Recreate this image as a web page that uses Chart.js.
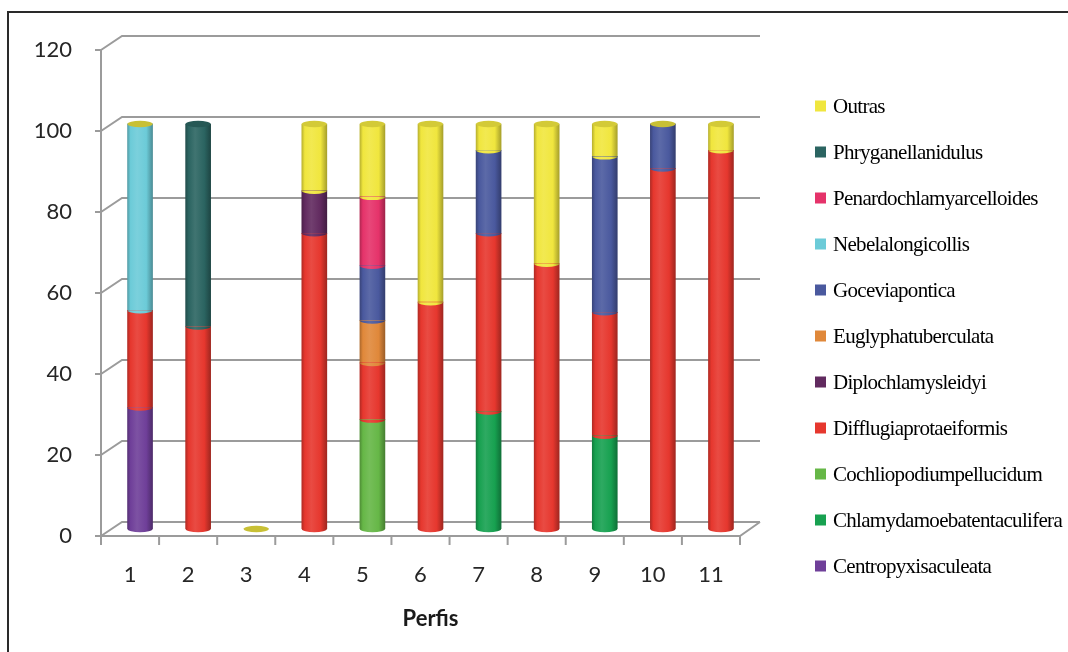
<!DOCTYPE html>
<html>
<head>
<meta charset="utf-8">
<script src="https://cdn.jsdelivr.net/npm/chart.js@4/dist/chart.umd.min.js"></script>
<style>
  html, body { margin: 0; padding: 0; background: #ffffff; }
  #wrap { position: relative; width: 1068px; height: 652px; }
</style>
</head>
<body>
<div id="wrap"><canvas id="chart"></canvas></div>
<script>
// Profiles (x axis)
const perfis = ['1', '2', '3', '4', '5', '6', '7', '8', '9', '10', '11'];

// Relative abundance (%) per profile, listed from the bottom of each stack upwards
const centropyxisAculeata        = [30,   null, null, null, null, null, null, null, null, null, null];
const chlamydamoebaTentaculifera = [null, null, null, null, null, null, 29,   null, 23,   null, null];
const cochliopodiumPellucidum    = [null, null, null, null, 27,   null, null, null, null, null, null];
const difflugiaProtaeiformis     = [24,   50,   null, 73,   14,   56,   44,   65.5, 30.5, 89,   93.5];
const diplochlamysLeidyi         = [null, null, null, 10.5, null, null, null, null, null, null, null];
const euglyphaTuberculata        = [null, null, null, null, 10.5, null, null, null, null, null, null];
const goceviaPontica             = [null, null, null, null, 13.5, null, 20.5, null, 38.5, 11,   null];
const nebelaLongicollis          = [46,   null, null, null, null, null, null, null, null, null, null];
const penardochlamysArcelloides  = [null, null, null, null, 17,   null, null, null, null, null, null];
const phryganellaNidulus         = [null, 50,   null, null, null, null, null, null, null, null, null];
const outras                     = [0,    null, 0,    16.5, 18,   44,   6.5,  34.5, 8,    0,    6.5];

// Y axis ticks
const yTicks = [0, 20, 40, 60, 80, 100, 120];

const series = [
  { label: 'Centropyxis aculeata',        data: centropyxisAculeata,        color: '#6f3f99' },
  { label: 'Chlamydamoeba tentaculifera', data: chlamydamoebaTentaculifera, color: '#17a150' },
  { label: 'Cochliopodium pellucidum',    data: cochliopodiumPellucidum,    color: '#66b747' },
  { label: 'Difflugia protaeiformis',     data: difflugiaProtaeiformis,     color: '#e6372e' },
  { label: 'Diplochlamys leidyi',         data: diplochlamysLeidyi,         color: '#612a5f' },
  { label: 'Euglypha tuberculata',        data: euglyphaTuberculata,        color: '#e0883a' },
  { label: 'Gocevia pontica',             data: goceviaPontica,             color: '#4a599e' },
  { label: 'Nebela longicollis',          data: nebelaLongicollis,          color: '#6ccbd8' },
  { label: 'Penardochlamys arcelloides',  data: penardochlamysArcelloides,  color: '#e5336a' },
  { label: 'Phryganella nidulus',         data: phryganellaNidulus,         color: '#2b6461' },
  { label: 'Outras',                      data: outras,                     color: '#f0e63e' }
];

// Legend texts as printed (legend lists series from top of stack downwards)
const legendLabels = [
  'Outras', 'Phryganellanidulus', 'Penardochlamyarcelloides', 'Nebelalongicollis',
  'Goceviapontica', 'Euglyphatuberculata', 'Diplochlamysleidyi', 'Difflugiaprotaeiformis',
  'Cochliopodiumpellucidum', 'Chlamydamoebatentaculifera', 'Centropyxisaculeata'
];

function hexToRgb(h) {
  const n = parseInt(h.slice(1), 16);
  return [(n >> 16) & 255, (n >> 8) & 255, n & 255];
}
function mix(h, target, t) {
  const c = hexToRgb(h);
  const r = c.map((v, i) => Math.round(v + (target[i] - v) * t));
  return 'rgb(' + r.join(',') + ')';
}
const darken = (h, t) => mix(h, [0, 0, 0], t);
const lighten = (h, t) => mix(h, [255, 255, 255], t);

const BAR_W = 25;
const DEPTH_X = 10;   // half of the 3-D depth, horizontal
const DEPTH_Y = 7;    // half of the 3-D depth, vertical

// Horizontal shading that makes each bar read as a cylinder
function cylinderGradient(ctx, cx, color) {
  const g = ctx.createLinearGradient(cx - BAR_W / 2, 0, cx + BAR_W / 2, 0);
  g.addColorStop(0, darken(color, 0.22));
  g.addColorStop(0.12, color);
  g.addColorStop(0.38, lighten(color, 0.10));
  g.addColorStop(0.75, color);
  g.addColorStop(1, darken(color, 0.30));
  return g;
}

function barFill(context, color) {
  const chart = context.chart;
  const xs = chart.scales && chart.scales.x;
  if (!xs || !chart.chartArea || context.dataIndex === undefined) return color;
  const cx = xs.getPixelForValue(context.dataIndex);
  if (!isFinite(cx)) return color;
  return cylinderGradient(chart.ctx, cx, color);
}

// 3-D walls: back gridlines, floor and front axes
const wallsPlugin = {
  id: 'walls',
  beforeDatasetsDraw(chart) {
    const { ctx, chartArea: a, scales: { x, y } } = chart;
    const frontL = a.left - DEPTH_X, frontR = a.right - DEPTH_X;
    const backL = a.left + DEPTH_X + 1, backR = a.right + DEPTH_X;
    ctx.save();
    ctx.strokeStyle = '#9b9b9b';
    ctx.lineWidth = 2;
    yTicks.forEach(v => {
      const py = y.getPixelForValue(v);
      ctx.beginPath();
      ctx.moveTo(frontL, py + DEPTH_Y);
      ctx.lineTo(backL, py - DEPTH_Y);
      ctx.lineTo(backR, py - DEPTH_Y);
      ctx.stroke();
      // tick mark on the front axis
      ctx.beginPath();
      ctx.moveTo(frontL - 6, py + DEPTH_Y);
      ctx.lineTo(frontL, py + DEPTH_Y);
      ctx.stroke();
    });
    const y0 = y.getPixelForValue(0);
    const yTop = y.getPixelForValue(120);
    // front vertical axis
    ctx.beginPath();
    ctx.moveTo(frontL, yTop + DEPTH_Y);
    ctx.lineTo(frontL, y0 + DEPTH_Y + 9);
    ctx.stroke();
    // front floor edge and its right side
    ctx.beginPath();
    ctx.moveTo(frontL, y0 + DEPTH_Y);
    ctx.lineTo(frontR, y0 + DEPTH_Y);
    ctx.lineTo(backR, y0 - DEPTH_Y);
    ctx.stroke();
    // category tick marks below the floor edge
    const step = (a.right - a.left) / perfis.length;
    for (let i = 0; i <= perfis.length; i++) {
      const px = frontL + step * i;
      ctx.beginPath();
      ctx.moveTo(px, y0 + DEPTH_Y);
      ctx.lineTo(px, y0 + DEPTH_Y + 9);
      ctx.stroke();
    }
    ctx.restore();
  },
  // rounded segment ends and top caps of the cylinders
  afterDatasetsDraw(chart) {
    const ctx = chart.ctx;
    const ry = 3.2;
    ctx.save();
    chart.data.datasets.forEach((ds, di) => {
      const meta = chart.getDatasetMeta(di);
      meta.data.forEach((el, j) => {
        const v = ds.data[j];
        if (v === null || v === 0) return;
        const p = el.getProps(['x', 'y', 'base', 'width'], true);
        ctx.beginPath();
        ctx.ellipse(p.x, p.base, p.width / 2, ry, 0, 0, Math.PI);
        ctx.fillStyle = cylinderGradient(ctx, p.x, ds.baseColor);
        ctx.fill();
      });
    });
    perfis.forEach((_, j) => {
      for (let di = chart.data.datasets.length - 1; di >= 0; di--) {
        const ds = chart.data.datasets[di];
        if (ds.data[j] === null) continue;
        const p = chart.getDatasetMeta(di).data[j].getProps(['x', 'y', 'width'], true);
        ctx.beginPath();
        ctx.ellipse(p.x, p.y, p.width / 2, ry, 0, 0, Math.PI * 2);
        ctx.fillStyle = ds.data[j] === 0 ? '#c8c035' : darken(ds.baseColor, 0.12);
        ctx.fill();
        break;
      }
    });
    ctx.restore();
  }
};

// Frame around the whole figure and the legend at the right
const frameLegendPlugin = {
  id: 'frameLegend',
  afterDraw(chart) {
    const ctx = chart.ctx;
    ctx.save();
    ctx.strokeStyle = '#2a2a2a';
    ctx.lineWidth = 2;
    ctx.beginPath();
    ctx.moveTo(8, 660);
    ctx.lineTo(8, 12);
    ctx.lineTo(1075, 12);
    ctx.stroke();

    const ordered = chart.data.datasets.slice().reverse();
    ctx.font = '21px "Liberation Serif"';
    ctx.letterSpacing = '-0.7px';
    ctx.textBaseline = 'middle';
    ctx.textAlign = 'left';
    ordered.forEach((ds, i) => {
      const cy = 106 + i * 46;
      ctx.fillStyle = ds.baseColor;
      ctx.fillRect(815, cy - 5.5, 11, 11);
      ctx.fillStyle = '#000000';
      ctx.fillText(legendLabels[i], 833, cy + 1);
    });
    ctx.restore();
  }
};

const tickFont = { family: 'Lato, "Open Sans", sans-serif', size: 22 };

new Chart(document.getElementById('chart'), {
  type: 'bar',
  data: {
    labels: perfis,
    datasets: series.map(s => ({
      label: s.label,
      data: s.data,
      baseColor: s.color,
      backgroundColor: (c) => barFill(c, s.color),
      borderWidth: 0,
      barThickness: BAR_W,
      stack: 'perfil'
    }))
  },
  options: {
    responsive: true,
    maintainAspectRatio: false,
    animation: false,
    layout: { padding: { top: 43, right: 318, left: 0, bottom: 0 } },
    plugins: {
      legend: { display: false },
      tooltip: { enabled: false }
    },
    scales: {
      x: {
        stacked: true,
        grid: { display: false, drawTicks: false },
        border: { display: false },
        ticks: { font: tickFont, color: '#262626', padding: 33, labelOffset: -10 },
        title: {
          display: true,
          text: 'Perfis',
          font: { family: 'Lato, "Open Sans", sans-serif', size: 22, weight: 'bold' },
          color: '#1a1a1a',
          padding: { top: 0, bottom: 20 }
        },
        afterFit(scale) { scale.height = 123; scale.paddingLeft = 0; scale.paddingRight = 0; }
      },
      y: {
        stacked: true,
        min: 0,
        max: 120,
        grid: { display: false, drawTicks: false },
        border: { display: false },
        ticks: {
          stepSize: 20,
          font: tickFont,
          color: '#262626',
          padding: 39,
          labelOffset: 7
        },
        afterFit(scale) { scale.width = 111; scale.paddingTop = 0; scale.paddingBottom = 0; }
      }
    }
  },
  plugins: [wallsPlugin, frameLegendPlugin]
});
</script>
</body>
</html>
